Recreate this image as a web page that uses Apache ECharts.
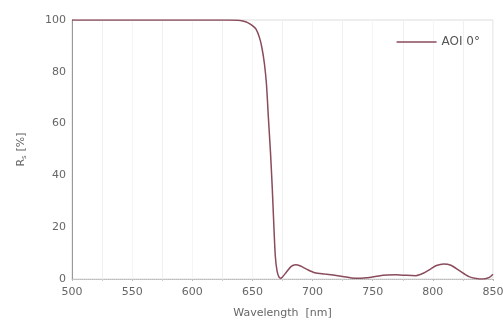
<!DOCTYPE html>
<html>
<head>
<meta charset="utf-8">
<script src="https://cdn.jsdelivr.net/npm/echarts@6/dist/echarts.min.js"></script>
<style>html,body{margin:0;padding:0;background:#fff}#c{width:503px;height:320px}</style>
</head>
<body>
<div id="c"></div>
<script>
const wavelengths = [500,550,600,630,638,642,646,650,653,656,658,660,661.7,663.3,665,666.5,667.5,669,670.5,672,673.5,675,678,682,686,690,695,702,710,717,725,735,745,755,762,770,778,786,792,798,803,809,815,822,830,836,842,847,850];
const reflectance = [100,100,100,100,99.9,99.6,99,97.8,96.5,93,89,83,75,62,49,35,24,9,3,0.8,0.3,0.8,2.5,4.8,5.5,5,3.8,2.4,1.9,1.5,1,0.3,0.5,1.2,1.5,1.6,1.4,1.3,2.2,3.8,5.2,5.8,5.3,3.2,0.9,0.2,0,0.6,1.8];
const seriesName = 'AOI 0°';
const xTitle = 'Wavelength  [nm]';

const data = wavelengths.map((w, i) => [w, reflectance[i]]);
const font = 'DejaVu Sans, sans-serif';
const chart = echarts.init(document.getElementById('c'));
chart.setOption({
  animation: false,
  textStyle: {fontFamily: font},
  grid: {left: 72, right: 10, top: 20, bottom: 41, show: true, borderColor: '#dcdcdc', borderWidth: 1, outerBoundsMode: 'none', containLabel: false},
  legend: {
    right: 18, top: 31, itemWidth: 40, itemHeight: 10, itemGap: 4,
    icon: 'path://M0,4.3L40,4.3L40,5.7L0,5.7Z',
    textStyle: {fontSize: 12, color: '#555', fontFamily: font},
    data: [seriesName]
  },
  xAxis: {
    type: 'value', min: 500, max: 850, interval: 50,
    name: xTitle, nameLocation: 'middle', nameGap: 29,
    nameTextStyle: {fontSize: 11, color: '#666'},
    axisLine: {lineStyle: {color: '#bbb', type: 'dotted'}},
    axisTick: {show: true, length: 2, lineStyle: {color: '#bbb'}},
    minorTick: {show: true, splitNumber: 2, length: 2, lineStyle: {color: '#ccc'}},
    axisLabel: {fontSize: 11, color: '#666', margin: 8},
    splitLine: {show: true, lineStyle: {color: '#f5f5f5'}},
    minorSplitLine: {show: true, lineStyle: {color: '#f0f0f0'}}
  },
  yAxis: {
    type: 'value', min: 0, max: 100, interval: 20,
    name: '{a|R}{s|s} {a|[%]}', nameLocation: 'middle', nameGap: 44,
    nameTextStyle: {rich: {a: {fontSize: 11, color: '#666'}, s: {fontSize: 7, color: '#666', verticalAlign: 'bottom', padding: [6,0,0,0]}}},
    axisLine: {show: true, lineStyle: {color: '#999'}},
    axisTick: {show: false},
    axisLabel: {fontSize: 11, color: '#666', margin: 6},
    splitLine: {show: false}
  },
  series: [{
    name: seriesName, type: 'line', data: data, symbol: 'none', smooth: 0.25,
    lineStyle: {color: '#8a4b5b', width: 1.5}, itemStyle: {color: '#8a4b5b'}
  }]
});
</script>
</body>
</html>
